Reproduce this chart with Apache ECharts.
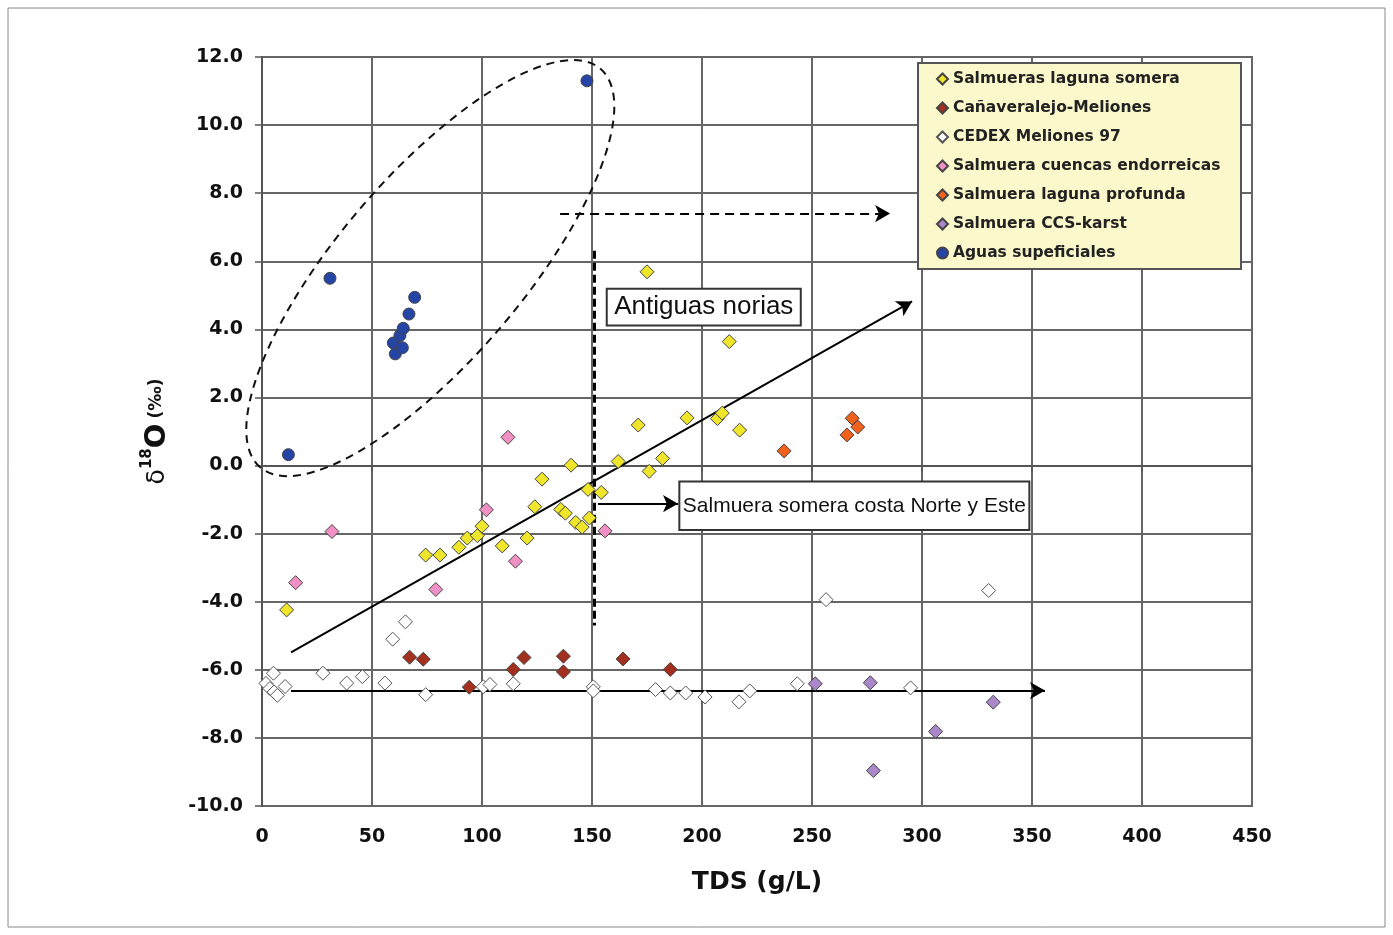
<!DOCTYPE html>
<html><head><meta charset="utf-8">
<script src="https://cdn.jsdelivr.net/npm/echarts@6/dist/echarts.min.js"></script>
<style>html,body{margin:0;padding:0;background:#fff}#c{width:1393px;height:935px}</style>
</head><body><div id="c"></div>
<script>
// ---- data (TDS g/L, δ18O ‰) ----
const seriesNames = ['Salmueras laguna somera','Cañaveralejo-Meliones','CEDEX Meliones 97','Salmuera cuencas endorreicas','Salmuera laguna profunda','Salmuera CCS-karst','Aguas supeficiales'];
const somera = [[11.2,-4.24],[74.4,-2.63],[80.9,-2.63],[89.5,-2.40],[93.3,-2.13],[97.9,-2.06],[100,-1.78],[109.2,-2.36],[120.5,-2.13],[124,-1.21],[127.3,-0.40],[135.8,-1.29],[137.9,-1.40],[140.5,0.01],[142.6,-1.67],[145.5,-1.81],[148.2,-0.70],[148.8,-1.54],[154.2,-0.79],[161.9,0.12],[171,1.19],[175,5.69],[212.4,3.64],[193.2,1.40],[207,1.38],[209.2,1.54],[217.1,1.04],[182.1,0.21],[176,-0.17]];
const canaveralejo = [[67.1,-5.63],[73.3,-5.69],[94.2,-6.51],[114.2,-5.99],[119.1,-5.64],[137,-5.60],[137,-6.06],[164.1,-5.68],[185.6,-5.99]];
const cedex = [[1.8,-6.4],[3.6,-6.55],[5.5,-6.65],[7,-6.75],[10.5,-6.49],[5.2,-6.1],[27.7,-6.10],[38.5,-6.39],[45.6,-6.20],[55.9,-6.39],[59.4,-5.10],[65.2,-4.59],[74.4,-6.73],[100.6,-6.5],[103.6,-6.43],[114.2,-6.41],[150.6,-6.50],[150.6,-6.62],[178.9,-6.58],[185.6,-6.68],[192.6,-6.68],[201.4,-6.80],[216.8,-6.94],[221.7,-6.62],[243.3,-6.41],[256.4,-3.94],[294.8,-6.53],[330.3,-3.67]];
const endorreicas = [[15.3,-3.44],[31.8,-1.94],[79,-3.64],[102,-1.30],[111.8,0.83],[115.2,-2.81],[155.9,-1.92]];
const profunda = [[237.3,0.43],[265.9,0.90],[268.3,1.39],[270.8,1.13]];
const karst = [[251.5,-6.41],[276.5,-6.38],[277.9,-8.96],[306.2,-7.81],[332.4,-6.95]];
const superficiales = [[12,0.32],[30.9,5.50],[59.7,3.60],[60.6,3.28],[62.7,3.82],[63.8,3.46],[64.2,4.03],[66.8,4.45],[69.4,4.94],[147.7,11.30]];
const seriesData = [somera, canaveralejo, cedex, endorreicas, profunda, karst, superficiales];
const seriesColors = ['#efe52b','#a3301e','#ffffff','#f190c4','#f1611c','#a987c9','#2445a6'];
const seriesSymbols = ['diamond','diamond','diamond','diamond','diamond','diamond','circle'];
const xTicks = [0,50,100,150,200,250,300,350,400,450];
const yTicks = [-10,-8,-6,-4,-2,0,2,4,6,8,10,12];

// annotations (data coords)
const trendArrow = [[13.2,-5.49],[295.5,4.82]];
const flatArrow = [[13.2,-6.61],[355.9,-6.61]];
const dashArrow = [[135.5,7.40],[285.5,7.40]];
const noriasLine = [[150.9,6.31],[150.9,-4.70]];
const costaArrow = [[152.7,-1.12],[189.1,-1.12]];
const noriasBox = {x0:156.7,y0:5.19,x1:244.9,y1:4.11,text:'Antiguas norias'};
const costaBox = {x0:189.7,y0:-0.47,x1:348.8,y1:-1.89,text:'Salmuera somera costa Norte y Este'};
const ellipseCenter = [76.5,5.8];

const chart = echarts.init(document.getElementById('c'));
const FONT = '"DejaVu Sans", Verdana, sans-serif';

// legend padding to reach the box width of the reference
const cv = document.createElement('canvas').getContext('2d');
cv.font = 'bold 15.5px "DejaVu Sans"';
const maxW = Math.max(...seriesNames.map(n => cv.measureText(n).width));
const legendW = 326, padL = 18, iconW = 11;
const padR = Math.max(4, legendW - padL - iconW - 5 - maxW - 4);

const series = seriesNames.map((n, i) => ({
  name: n, type: 'scatter', data: seriesData[i], symbol: seriesSymbols[i],
  symbolSize: i === 6 ? 12 : 14,
  itemStyle: {color: seriesColors[i], borderColor: i === 2 ? '#555' : '#444', borderWidth: 1, opacity: 1},
  z: 5
}));

const ml = (pts, style, endSym) => [
  {coord: pts[0], symbol: 'none', lineStyle: style},
  {coord: pts[1], symbol: endSym, symbolSize: [13, 15]}
];
series.push({
  type: 'line', data: [], silent: true, z: 6,
  markLine: {
    silent: true, animation: false, label: {show: false},
    symbol: ['none','arrow'], symbolSize: [13,15],
    lineStyle: {color: '#000', width: 2, type: 'solid'},
    data: [
      ml(trendArrow, {color:'#000', width:2, type:'solid'}, 'arrow'),
      ml(flatArrow, {color:'#000', width:2, type:'solid'}, 'arrow'),
      ml(dashArrow, {color:'#000', width:2, type:[9,6]}, 'arrow'),
      ml(noriasLine, {color:'#000', width:3, type:[8,4]}, 'none'),
      ml(costaArrow, {color:'#000', width:2, type:'solid'}, 'arrow')
    ]
  }
});

chart.setOption({
  animation: false,
  backgroundColor: '#fff',
  grid: {left: 262, top: 57, right: 141, bottom: 129, show: true, borderColor: '#666', borderWidth: 2},
  legend: {
    data: seriesNames, orient: 'vertical', left: 918, top: 63,
    padding: [7, padR, 7, padL], itemGap: 11, itemWidth: iconW, itemHeight: 11,
    backgroundColor: '#fbf8cb', borderColor: '#555', borderWidth: 2,
    textStyle: {fontFamily: FONT, fontWeight: 'bold', fontSize: 15.5, color: '#222', lineHeight: 18},
    selectedMode: false
  },
  xAxis: {
    type: 'value', min: 0, max: 450, interval: 50,
    name: 'TDS (g/L)', nameLocation: 'middle', nameGap: 64,
    nameTextStyle: {fontFamily: FONT, fontWeight: 'bold', fontSize: 25, color: '#111'},
    axisLine: {show: true, lineStyle: {color: '#555', width: 2}},
    axisTick: {show: true, inside: false, length: 6, lineStyle: {color: '#555', width: 1.5}},
    axisLabel: {margin: 22, fontFamily: FONT, fontWeight: 'bold', fontSize: 19, color: '#111',
      formatter: v => xTicks.includes(v) ? String(v) : ''},
    splitLine: {show: true, lineStyle: {color: '#666', width: 2}}
  },
  yAxis: {
    type: 'value', min: -10, max: 12, interval: 2,
    name: '{a|δ}{b|18}{c|O}{d|(‰)}', nameLocation: 'middle', nameGap: 88, nameRotate: 90,
    nameTextStyle: {
      color: '#111',
      rich: {
        a: {fontFamily: FONT, fontSize: 25, color: '#111', lineHeight: 34},
        b: {fontFamily: FONT, fontWeight: 'bold', fontSize: 15, color: '#111', verticalAlign: 'top', lineHeight: 34},
        c: {fontFamily: FONT, fontWeight: 'bold', fontSize: 29, color: '#111', lineHeight: 34, padding: [0, 5, 0, 0]},
        d: {fontFamily: FONT, fontWeight: 'bold', fontSize: 17, color: '#111', lineHeight: 34}
      }
    },
    axisLine: {show: true, lineStyle: {color: '#555', width: 2}},
    axisTick: {show: true, inside: false, length: 7, lineStyle: {color: '#555', width: 1.5}},
    axisLabel: {margin: 19, fontFamily: FONT, fontWeight: 'bold', fontSize: 19, color: '#111',
      formatter: v => yTicks.includes(v) ? v.toFixed(1) : ''},
    splitLine: {show: true, lineStyle: {color: '#666', width: 2}}
  },
  series: series
});

// annotation graphics positioned through the chart's own scales
const px = p => chart.convertToPixel({gridIndex: 0}, p);
function boxGraphic(b, fontSize) {
  const a = px([b.x0, b.y0]), c = px([b.x1, b.y1]);
  return [
    {type: 'rect', shape: {x: a[0], y: a[1], width: c[0]-a[0], height: c[1]-a[1]},
     style: {fill: '#fff', stroke: '#333', lineWidth: 2}, z: 20},
    {type: 'text', x: (a[0]+c[0])/2, y: (a[1]+c[1])/2,
     style: {text: b.text, fill: '#111', font: fontSize + 'px "Liberation Sans", Arial, sans-serif', align: 'center', verticalAlign: 'middle'}, z: 21}
  ];
}
const ec = px(ellipseCenter);
chart.setOption({
  graphic: [
    {type: 'rect', shape: {x: 8, y: 8, width: 1377, height: 919}, style: {fill: 'none', stroke: '#888', lineWidth: 1}, z: 1, silent: true},
    {type: 'ellipse', x: ec[0], y: ec[1], rotation: 49.5 * Math.PI / 180,
     shape: {cx: 0, cy: 0, rx: 262, ry: 92},
     style: {fill: 'none', stroke: '#111', lineWidth: 2, lineDash: [8, 6]}, z: 10, silent: true},
    ...boxGraphic(noriasBox, 26),
    ...boxGraphic(costaBox, 21)
  ]
});
</script></body></html>
